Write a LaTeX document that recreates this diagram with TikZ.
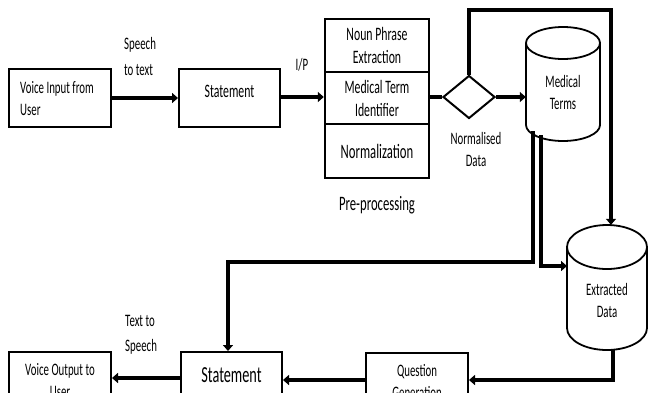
\documentclass[tikz,border=0pt]{standalone}
\usepackage{fontspec}
\setmainfont{Carlito}[FakeStretch=0.62]
\usetikzlibrary{arrows.meta,shapes.geometric}
\newcommand\fsA{\fontsize{17.5}{22}\selectfont}
\newcommand\fsB{\fontsize{19}{23}\selectfont}
\newcommand\fsC{\fontsize{20.5}{24}\selectfont}
\newcommand\fsD{\fontsize{23}{27}\selectfont}
\tikzset{
  box/.style={draw, line width=2pt, inner sep=0pt, align=center},
  conn/.style={line width=4pt},
  arr/.style={conn, -{Triangle[length=6pt,width=10pt]}},
  cyl/.style={line width=1.8pt},
  lbl/.style={inner sep=0pt, font=\fsA}
}
\begin{document}
\begin{tikzpicture}[x=1pt,y=-1pt]
\useasboundingbox (0,0) rectangle (648,392);
\clip (0,0) rectangle (648,392);
% top row
\node[box, minimum width=102pt, minimum height=58pt] (vin) at (60,98) {};
\node[lbl, anchor=west, align=left] (vint) at (20,99) {Voice Input from\\User};
\node[box, minimum width=101pt, minimum height=58pt] (st1) at (229.5,98) {};
\node[lbl, font=\fsB] (st1t) at (229.5,91) {Statement};
% pre-processing stack
\node[box, line width=2.4pt, minimum width=104pt, minimum height=53pt, font=\fsB] (np) at (377,45.5) {Noun Phrase\\Extraction};
\node[box, line width=2.4pt, minimum width=104pt, minimum height=52pt, font=\fsB] (mt) at (377,98) {Medical Term\\Identifier};
\node[box, line width=2.4pt, minimum width=104pt, minimum height=54pt, font=\fsC] (nm) at (377,151) {Normalization};
\node[lbl, font=\fsC] (pp) at (377,205) {Pre-processing};
% diamond
\node[draw, diamond, line width=2pt, minimum width=52pt, minimum height=43pt, inner sep=0pt] (dia) at (469,97) {};
\node[lbl, align=center] (nd) at (476,149) {Normalised\\Data};
% Medical Terms cylinder
\node[inner sep=0pt, minimum width=74pt, minimum height=114pt] (medt) at (563,84) {};
\draw[cyl] (563,43) ellipse[x radius=37pt, y radius=16pt];
\draw[cyl] (526,43) -- (526,125) arc[start angle=180, end angle=360, x radius=37pt, y radius=16pt] -- (600,43);
\node[lbl, align=center] (medtt) at (563,92) {Medical\\Terms};
% Extracted Data cylinder
\node[inner sep=0pt, minimum width=80pt, minimum height=125pt] (ext) at (607,287.5) {};
\draw[cyl] (607,247) ellipse[x radius=40pt, y radius=22pt];
\draw[cyl] (567,247) -- (567,328) arc[start angle=180, end angle=360, x radius=40pt, y radius=22pt] -- (647,247);
\node[lbl, align=center] (extt) at (607,300) {Extracted\\Data};
% bottom row
\node[box, minimum width=102pt, minimum height=58pt, font=\fsA] (vout) at (60,381) {Voice Output to\\User};
\node[box, minimum width=101pt, minimum height=58pt] (st2) at (231.5,381) {};
\node[lbl, font=\fsD] (st2t) at (231.5,375) {Statement};
\node[box, minimum width=102pt, minimum height=58pt, font=\fsA] (qg) at (417,382) {Question\\Generation};
% labels
\node[lbl, anchor=west, align=left, font=\fontsize{17.5}{26}\selectfont] (s2t) at (124,56) {Speech\\to text};
\node[lbl] (ip) at (302,65) {I/P};
\node[lbl, anchor=west, align=left, font=\fontsize{17.5}{25}\selectfont] (t2s) at (125,334.5) {Text to\\Speech};
% connectors
\draw[arr] (vin) -- (st1);
\draw[arr] (st1.east |- dia) -- (mt.west |- dia);
\draw[conn] (mt.east |- dia) -- (dia.west);
\draw[arr] (dia.east) -- (dia.east -| medt.west);
\coordinate (tr) at (611,10);
\draw[arr] (dia.north) |- (tr) -- (tr |- ext.north);
\coordinate (m1) at (533,131);
\coordinate (c1) at (228,262);
\draw[arr] (m1) |- (c1) -- (c1 |- st2.north);
\coordinate (m2) at (541,135);
\coordinate (c2) at (567,266);
\draw[arr] (m2) |- (c2);
\coordinate (b1) at (613,380);
\draw[arr] (ext.south -| b1) -- (b1) -- (b1 -| qg.east);
\draw[arr] (qg.west |- b1) -- (st2.east |- b1);
\draw[arr] (st2.west |- 0,378) -- (vout.east |- 0,378);
\end{tikzpicture}
\end{document}
